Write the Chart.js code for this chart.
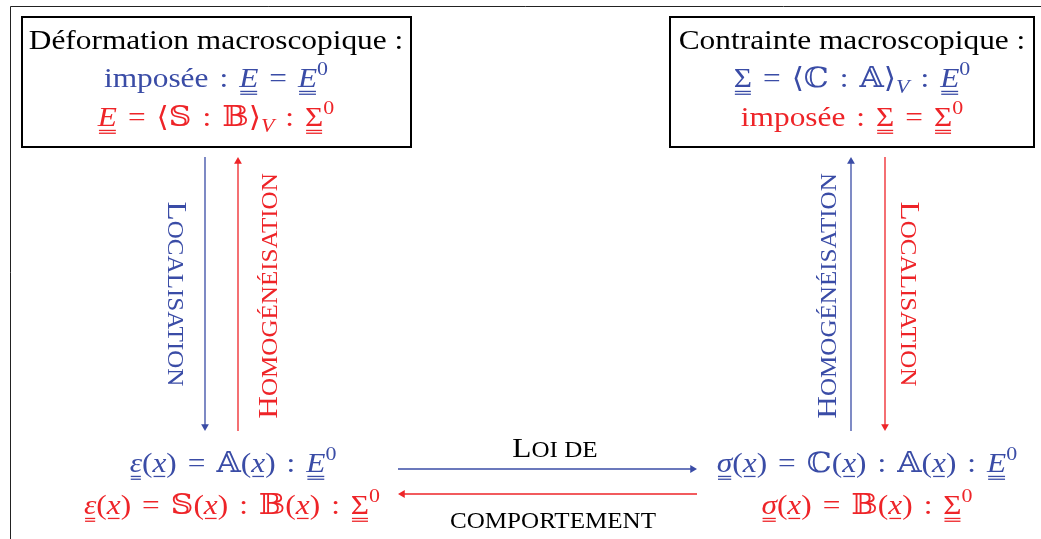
<!DOCTYPE html>
<html>
<head>
<meta charset="utf-8">
<script src="https://cdn.jsdelivr.net/npm/chart.js@4/dist/chart.umd.min.js"></script>
<style>
  html, body { margin: 0; padding: 0; background: #fff; }
  canvas { display: block; }
</style>
</head>
<body>
<canvas id="diagram" width="1041" height="539"></canvas>
<script>
const W = 1041, H = 539;
const BLUE = 'rgb(58,76,166)';
const RED = 'rgb(238,36,40)';
const FAMILY = '"Liberation Serif", "DejaVu Serif", serif';

// arrows: start / end in diagram units (y grows downward)
const arrowFrom = [[205, 157], [238, 431], [851, 431], [885, 157], [398, 469], [697, 494]];
const arrowTo = [[205, 431], [238, 157], [851, 157], [885, 431], [697, 469], [398, 494]];
const arrowColor = [BLUE, RED, BLUE, RED, BLUE, RED];

// boxes: [left, top, right, bottom]
const boxes = [[22, 17, 411, 147], [670, 17, 1034, 147]];
const frame = [[10.5, 539], [10.5, 6.5], [1041, 6.5]];

// text content (segments: [text, flags])
const leftBox = [
    [['Déformation macroscopique :']],
    [['imposée : '], ['E', 'i uu'], [' = '], ['E', 'i uu'], ['0', 'sup']],
    [['E', 'i uu'], [' = ⟨𝕊 : 𝔹⟩'], ['V', 'i sub'], [' : '], ['Σ', 'uu'], ['0', 'sup']]
];
const rightBox = [
    [['Contrainte macroscopique :']],
    [['Σ', 'uu'], [' = ⟨ℂ : 𝔸⟩'], ['V', 'i sub'], [' : '], ['E', 'i uu'], ['0', 'sup']],
    [['imposée : '], ['Σ', 'uu'], [' = '], ['Σ', 'uu'], ['0', 'sup']]
];
const leftLocal = [
    [['ε', 'i uu'], ['('], ['x', 'i u'], [') = 𝔸('], ['x', 'i u'], [') : '], ['E', 'i uu'], ['0', 'sup']],
    [['ε', 'i uu'], ['('], ['x', 'i u'], [') = 𝕊('], ['x', 'i u'], [') : 𝔹('], ['x', 'i u'], [') : '], ['Σ', 'uu'], ['0', 'sup']]
];
const rightLocal = [
    [['σ', 'i uu'], ['('], ['x', 'i u'], [') = ℂ('], ['x', 'i u'], [') : 𝔸('], ['x', 'i u'], [') : '], ['E', 'i uu'], ['0', 'sup']],
    [['σ', 'i uu'], ['('], ['x', 'i u'], [') = 𝔹('], ['x', 'i u'], [') : '], ['Σ', 'uu'], ['0', 'sup']]
];
const localisation = [['L'], ['ocalisation', 'sc']];
const homogeneisation = [['H'], ['omogénéisation', 'sc']];
const loiDe = [['L'], ['oi de', 'sc']];
const comportement = [['comportement', 'sc']];

const MATH = 0.35;  // space width (em) inside formulas
const labels = [
    { x: 216, y: 40, c: '#000', s: leftBox[0] },
    { x: 216, y: 78, c: BLUE, s: leftBox[1], sp: MATH },
    { x: 216, y: 117, c: RED, s: leftBox[2], sp: MATH },
    { x: 852, y: 40, c: '#000', s: rightBox[0] },
    { x: 852, y: 78, c: BLUE, s: rightBox[1], sp: MATH },
    { x: 852, y: 117, c: RED, s: rightBox[2], sp: MATH },
    { x: 233, y: 463, c: BLUE, s: leftLocal[0], sp: MATH },
    { x: 232, y: 505, c: RED, s: leftLocal[1], sp: MATH },
    { x: 867, y: 463, c: BLUE, s: rightLocal[0], sp: MATH },
    { x: 867, y: 505, c: RED, s: rightLocal[1], sp: MATH },
    { x: 177, y: 294, c: BLUE, s: localisation, rot: 90 },
    { x: 268, y: 296, c: RED, s: homogeneisation, rot: -90 },
    { x: 827, y: 296, c: BLUE, s: homogeneisation, rot: -90 },
    { x: 910, y: 294, c: RED, s: localisation, rot: 90 },
    { x: 555, y: 448, c: '#000', s: loiDe },
    { x: 553, y: 519, c: '#000', s: comportement }
];

function segPart(seg, size) {
    const f = (seg[1] || '').split(' ');
    let sz = size, dy = 0;
    if (f.includes('sup')) { sz = size * 0.7; dy = -size * 0.42; }
    if (f.includes('sub')) { sz = size * 0.7; dy = size * 0.22; }
    if (f.includes('sc')) sz = size * 0.8;
    return {
        text: f.includes('sc') ? seg[0].toUpperCase() : seg[0],
        font: (f.includes('i') ? 'italic ' : '') + sz.toFixed(1) + 'px ' + FAMILY,
        dy: dy,
        ul: f.includes('uu') ? 2 : (f.includes('u') ? 1 : 0)
    };
}

// width of a text where every space is given a fixed width
function measureSpaced(ctx, text, spaceW) {
    if (!spaceW) return ctx.measureText(text).width;
    return text.split(' ').reduce((w, piece, k) => w + ctx.measureText(piece).width + (k > 0 ? spaceW : 0), 0);
}

function fillSpaced(ctx, text, x, y, spaceW) {
    if (!spaceW) { ctx.fillText(text, x, y); return; }
    text.split(' ').forEach((piece, k) => {
        if (k > 0) x += spaceW;
        ctx.fillText(piece, x, y);
        x += ctx.measureText(piece).width;
    });
}

function drawRich(ctx, segs, cx, cy, size, color, rot, sp) {
    const spaceW = sp ? sp * size : 0;
    const ps = segs.map(s => segPart(s, size));
    let total = 0;
    ps.forEach(p => {
        ctx.font = p.font;
        p.w = measureSpaced(ctx, p.text, spaceW);
        total += p.w;
    });
    ctx.save();
    ctx.translate(cx, cy);
    ctx.rotate(rot * Math.PI / 180);
    ctx.scale(1.12, 1);  // Computer Modern is wider than Times
    ctx.fillStyle = color;
    ctx.strokeStyle = color;
    ctx.lineWidth = 1.3;
    ctx.textAlign = 'left';
    ctx.textBaseline = 'alphabetic';
    let x = -total / 2;
    const base = size * 0.33;
    ps.forEach(p => {
        ctx.font = p.font;
        fillSpaced(ctx, p.text, x, base + p.dy, spaceW);
        for (let k = 0; k < p.ul; k++) {
            const uy = base + size * 0.15 + k * size * 0.1;
            ctx.beginPath();
            ctx.moveTo(x + 1, uy);
            ctx.lineTo(x + p.w - 1, uy);
            ctx.stroke();
        }
        x += p.w;
    });
    ctx.restore();
}

const textPlugin = {
    id: 'diagramText',
    afterDatasetsDraw(chart) {
        const ctx = chart.ctx;
        const xs = chart.scales.x, ys = chart.scales.y;
        labels.forEach(l => {
            drawRich(ctx, l.s, xs.getPixelForValue(l.x), ys.getPixelForValue(l.y), l.size || 28, l.c, l.rot || 0, l.sp);
        });
    }
};

const pt = p => ({ x: p[0], y: p[1] });
const datasets = [];

// outer frame
datasets.push({ data: frame.map(pt), borderColor: '#222', borderWidth: 1 });

// boxes
boxes.forEach(b => {
    datasets.push({
        data: [[b[0], b[1]], [b[2], b[1]], [b[2], b[3]], [b[0], b[3]], [b[0], b[1]]].map(pt),
        borderColor: '#000', borderWidth: 2, borderCapStyle: 'square', borderJoinStyle: 'miter'
    });
});

// arrows: line to the head, triangle point as arrow head
const HEAD = 4.5;
arrowFrom.forEach((a, i) => {
    const b = arrowTo[i];
    const dx = b[0] - a[0], dy = b[1] - a[1];
    const len = Math.hypot(dx, dy);
    const head = [b[0] - dx / len * HEAD, b[1] - dy / len * HEAD];
    const rot = Math.atan2(dx, -dy) * 180 / Math.PI;
    datasets.push({
        data: [pt(a), pt(head)],
        borderColor: arrowColor[i],
        borderWidth: 1.3,
        pointRadius: [0, HEAD],
        pointStyle: 'triangle',
        pointRotation: [0, rot],
        pointBackgroundColor: arrowColor[i],
        pointBorderColor: arrowColor[i],
        pointBorderWidth: 0
    });
});

new Chart(document.getElementById('diagram'), {
    type: 'scatter',
    data: { datasets: datasets.map(d => Object.assign({ showLine: true, tension: 0, pointRadius: 0, fill: false, clip: false }, d)) },
    options: {
        responsive: false,
        animation: false,
        events: [],
        layout: { padding: 0, autoPadding: false },
        plugins: { legend: { display: false }, tooltip: { enabled: false } },
        scales: {
            x: { type: 'linear', min: 0, max: W, display: false },
            y: { type: 'linear', min: 0, max: H, reverse: true, display: false }
        }
    },
    plugins: [textPlugin]
});
</script>
</body>
</html>
